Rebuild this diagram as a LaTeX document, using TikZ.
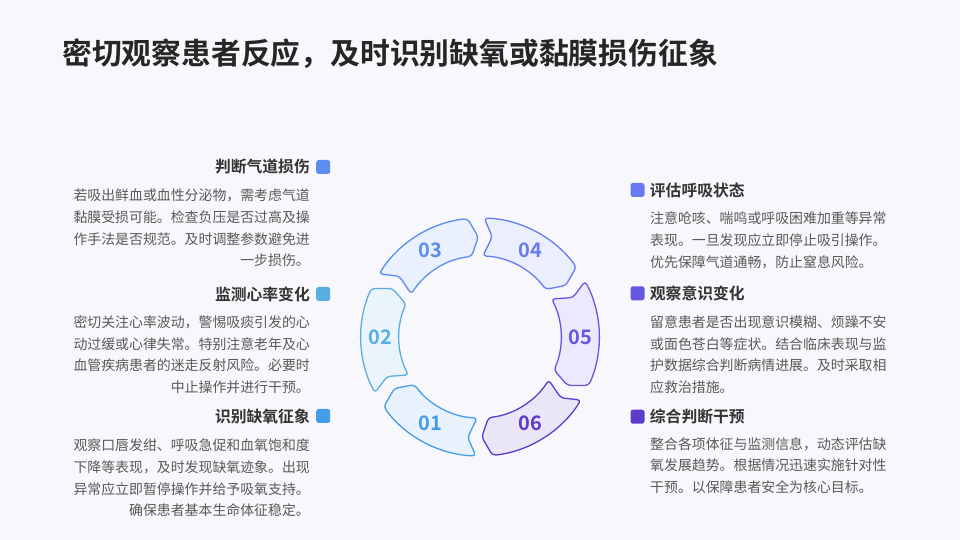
\documentclass[tikz,border=0pt]{standalone}
\usepackage{fontspec}
\setmainfont{Noto Sans CJK SC}[BoldFont={Noto Sans CJK SC Bold}]
\usepackage{tikz}
\usetikzlibrary{positioning}
\usepackage{xcolor}
\definecolor{bgcol}{RGB}{248,248,252}
\definecolor{titlecol}{RGB}{38,38,38}
\definecolor{headcol}{RGB}{51,51,51}
\definecolor{bodycol}{RGB}{89,89,89}
\definecolor{cone}{RGB}{70,156,232}
\definecolor{ctwo}{RGB}{90,174,224}
\definecolor{cthree}{RGB}{91,141,239}
\definecolor{cfour}{RGB}{105,122,240}
\definecolor{cfive}{RGB}{100,88,224}
\definecolor{csix}{RGB}{91,60,203}

\begin{document}
\begin{tikzpicture}[x=1pt,y=1pt,
  seg/.style={draw=#1, fill=#1!13!white, line width=1.3pt, rounded corners=3.5pt, line join=round},
  num/.style={text=#1, font=\fontsize{20}{20}\selectfont\bfseries},
  head/.style={text=headcol, font=\fontsize{15.8}{18}\selectfont\bfseries, inner sep=0pt},
  body/.style={text=bodycol, font=\fontsize{13.9}{21.6}\selectfont, inner sep=0pt},
  dot/.style={fill=#1, rounded corners=2.5pt, minimum size=14pt, inner sep=0pt}]

\fill[bgcol] (0,0) rectangle (960,540);
\useasboundingbox (0,0) rectangle (960,540);

\node[anchor=west, inner sep=0pt, text=titlecol, font=\fontsize{29.8}{32}\selectfont\bfseries] (title) at (62,486) {密切观察患者反应，及时识别缺氧或黏膜损伤征象};

% ring of arrows
\begin{scope}[shift={(480,203)}]
\foreach \a/\n/\c in {240/01/cone,180/02/ctwo,120/03/cthree,60/04/cfour,0/05/cfive,300/06/csix}{
  \draw[seg=\c] ({\a+28}:119) arc[start angle=\a+28, end angle=\a-24, radius=119]
    -- ({\a-29}:100) -- ({\a-24}:81) arc[start angle=\a-24, end angle=\a+28, radius=81]
    -- ({\a+23}:101) -- cycle;
  \node[num=\c] (n\n) at (\a:100) {\n};
}
\end{scope}

% left column
\node[head, anchor=east] (h1) at (310,373) {判断气道损伤};
\node[dot=cthree, right=6pt of h1] (d1) {};
\node[body, anchor=north east, align=right] (b1) at (310,351) {若吸出鲜血或血性分泌物，需考虑气道\\黏膜受损可能。检查负压是否过高及操\\作手法是否规范。及时调整参数避免进\\一步损伤。};

\node[head, anchor=east] (h2) at (310,246) {监测心率变化};
\node[dot=ctwo, right=6pt of h2] (d2) {};
\node[body, anchor=north east, align=right] (b2) at (310,224.5) {密切关注心率波动，警惕吸痰引发的心\\动过缓或心律失常。特别注意老年及心\\血管疾病患者的迷走反射风险。必要时\\中止操作并进行干预。};

\node[head, anchor=east] (h3) at (310,124) {识别缺氧征象};
\node[dot=cone, right=6pt of h3] (d3) {};
\node[body, anchor=north east, align=right] (b3) at (310,101) {观察口唇发绀、呼吸急促和血氧饱和度\\下降等表现，及时发现缺氧迹象。出现\\异常应立即暂停操作并给予吸氧支持。\\确保患者基本生命体征稳定。};

% right column
\node[dot=cfour] (d4) at (637.5,350) {};
\node[head, right=5pt of d4] (h4) {评估呼吸状态};
\node[body, anchor=north west, align=left] (b4) at (650,328) {注意呛咳、喘鸣或呼吸困难加重等异常\\表现。一旦发现应立即停止吸引操作。\\优先保障气道通畅，防止窒息风险。};

\node[dot=cfive] (d5) at (637.5,246.7) {};
\node[head, right=5pt of d5] (h5) {观察意识变化};
\node[body, anchor=north west, align=left] (b5) at (650,224.5) {留意患者是否出现意识模糊、烦躁不安\\或面色苍白等症状。结合临床表现与监\\护数据综合判断病情进展。及时采取相\\应救治措施。};

\node[dot=csix] (d6) at (637.5,123.3) {};
\node[head, right=5pt of d6] (h6) {综合判断干预};
\node[body, anchor=north west, align=left] (b6) at (650,103) {整合各项体征与监测信息，动态评估缺\\氧发展趋势。根据情况迅速实施针对性\\干预。以保障患者安全为核心目标。};
\end{tikzpicture}
\end{document}
